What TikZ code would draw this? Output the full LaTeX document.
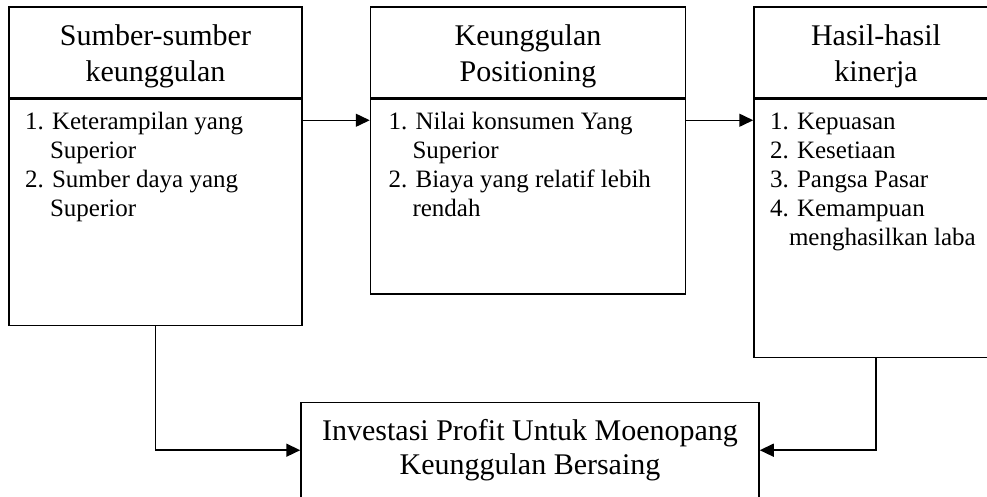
\documentclass[tikz,border=0pt]{standalone}
\usepackage{fontspec}
\setmainfont{Liberation Serif}
\usepackage{tikz}
\usetikzlibrary{arrows.meta,positioning}

\begin{document}
\begin{tikzpicture}[x=1pt, y=-1pt, line width=1.5pt,
    head/.style={draw, minimum height=91pt, align=center,
      font=\fontsize{30}{36}\selectfont},
    body/.style={draw, below=0pt of #1},
    list/.style={inner sep=0pt, align=left,
      font=\fontsize{25}{29}\selectfont},
    arrow/.style={-{Triangle[length=14pt,width=13pt]}}]
  \useasboundingbox (0,0) rectangle (987,496);

  % headers
  \node[head, minimum width=293pt] (h1) at (155.5,52.5) {\rule{0pt}{27.5pt}Sumber-sumber\\keunggulan};
  \node[head, minimum width=315pt, right=67pt of h1] (h2) {\rule{0pt}{27.5pt}Keunggulan\\Positioning};
  \node[head, minimum width=244pt, right=67pt of h2] (h3) {\rule{0pt}{27.5pt}Hasil-hasil\\kinerja};

  % bodies
  \node[body=h1, minimum width=293pt, minimum height=226pt] (b1) {};
  \node[body=h2, minimum width=315pt, minimum height=194.5pt] (b2) {};
  \node[body=h3, minimum width=244pt, minimum height=258pt] (b3) {};

  \node[list, below right=13pt and 16pt of b1.north west] (l1)
    {1. Keterampilan yang\\\hspace*{25pt}Superior\\2. Sumber daya yang\\\hspace*{25pt}Superior};
  \node[list, below right=13pt and 18pt of b2.north west] (l2)
    {1. Nilai konsumen Yang\\\hspace*{24pt}Superior\\2. Biaya yang relatif lebih\\\hspace*{24pt}rendah};
  \node[list, below right=13pt and 16pt of b3.north west] (l3)
    {1. Kepuasan\\2. Kesetiaan\\3. Pangsa Pasar\\4. Kemampuan\\\hspace*{19pt}menghasilkan laba};

  \node[draw, minimum width=458pt, minimum height=95pt, align=center,
    font=\fontsize{30}{34}\selectfont] (inv) at (530,450.2)
    {Investasi Profit Untuk Moenopang\\Keunggulan Bersaing};

  \draw[arrow] ([yshift=-21.5pt]b1.north east) -- ([yshift=-21.5pt]b2.north west);
  \draw[arrow] ([yshift=-21.5pt]b2.north east) -- ([yshift=-21.5pt]b3.north west);
  \draw[arrow] (b1.south) |- (inv.west);
  \draw[arrow] (b3.south) |- (inv.east);
\end{tikzpicture}
\end{document}
